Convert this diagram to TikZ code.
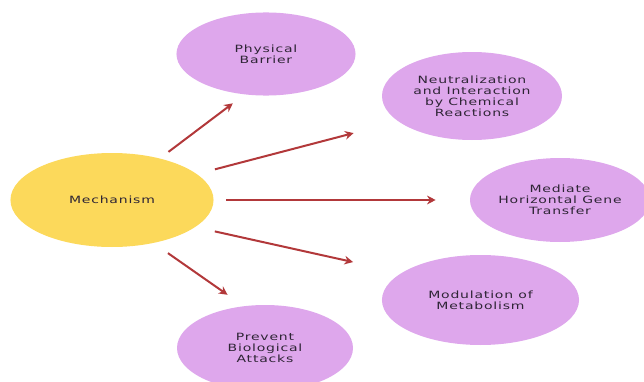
\documentclass[tikz,border=0pt]{standalone}
\usepackage{fontspec}
\usepackage{xcolor}
\usetikzlibrary{shapes.geometric, arrows.meta}
\newfontfamily\lblfont[FakeStretch=1.4,LetterSpace=8]{DejaVu Sans}
\definecolor{mechyellow}{RGB}{252,217,91}
\definecolor{mechpurple}{RGB}{222,167,236}
\definecolor{arrowred}{RGB}{178,56,58}
\definecolor{lbltext}{RGB}{46,37,53}
\tikzset{
  blob/.style={ellipse, inner sep=0pt, fill=mechpurple, text=lbltext, align=center,
    font=\lblfont\fontsize{7.5pt}{8.2pt}\selectfont},
  rarr/.style={draw=arrowred, line width=1.5pt, -{Stealth[length=6.5pt,width=6.5pt]}}
}

\begin{document}
\begin{tikzpicture}[x=0.75pt,y=0.75pt,yscale=-1,xscale=1]
\useasboundingbox (0,0) rectangle (644,382);

%Shape: Ellipse
\node[blob, fill=mechyellow, minimum width=152.3pt, minimum height=70.5pt] (mech) at (112,200) {Mechanism};
%Shape: Ellipse
\node[blob, minimum width=134.3pt, minimum height=62.3pt] (phys) at (266,54) {Physical\\Barrier};
%Shape: Ellipse
\node[blob, minimum width=135pt, minimum height=66pt] (neut) at (472,96) {Neutralization\\and Interaction\\by Chemical\\Reactions};
%Shape: Ellipse
\node[blob, minimum width=135pt, minimum height=63pt] (medi) at (560,200) {Mediate\\Horizontal Gene\\Transfer};
%Shape: Ellipse
\node[blob, minimum width=147.8pt, minimum height=67.5pt] (modu) at (480.5,300) {Modulation of\\Metabolism};
%Shape: Ellipse
\node[blob, minimum width=132pt, minimum height=64.5pt] (prev) at (265,348) {Prevent\\Biological\\Attacks};

%Straight Lines
\draw[rarr, shorten <=8pt, shorten >=10.9pt] (mech.41.2) -- (phys.242);
\draw[rarr, shorten <=13.9pt, shorten >=34.5pt] (mech.17.4) -- (neut.199.1);
\draw[rarr, shorten <=9.4pt, shorten >=25.5pt] (mech.0) -- (medi.180);
\draw[rarr, shorten <=14.9pt, shorten >=37.2pt] (mech.342.3) -- (modu.161.1);
\draw[rarr, shorten <=13.1pt, shorten >=14.7pt] (mech.314.2) -- (prev.117.9);

\end{tikzpicture}
\end{document}
